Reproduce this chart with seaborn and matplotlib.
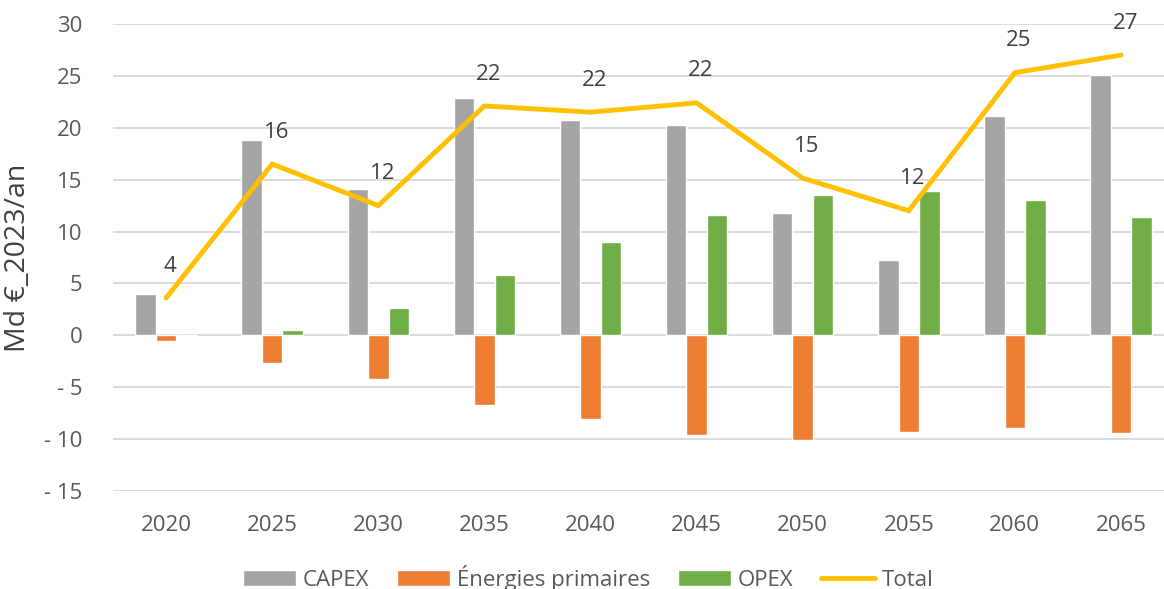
import numpy as np
import pandas as pd
import matplotlib
matplotlib.use("Agg")
import matplotlib.pyplot as plt
import seaborn as sns

# Données (Md €_2023/an)
annees = ["2020", "2025", "2030", "2035", "2040", "2045", "2050", "2055", "2060", "2065"]
capex = [4.0, 18.8, 14.1, 22.9, 20.7, 20.3, 11.8, 7.3, 21.1, 25.1]
energies_primaires = [-0.55, -2.7, -4.2, -6.7, -8.1, -9.65, -10.1, -9.3, -8.9, -9.4]
opex = [0.0, 0.5, 2.6, 5.8, 8.95, 11.6, 13.5, 13.95, 13.05, 11.4]
total = [3.6, 16.5, 12.5, 22.1, 21.5, 22.4, 15.15, 12.0, 25.3, 27.0]
etiquettes_total = ["4", "16", "12", "22", "22", "22", "15", "12", "25", "27"]

series = ["CAPEX", "Énergies primaires", "OPEX"]
couleurs = ["#A5A5A5", "#ED7D31", "#70AD47"]
couleur_total = "#FFC000"
texte = "#595959"

# Format long pour seaborn
df = pd.DataFrame({
    "annee": annees * 3,
    "serie": [s for s in series for _ in annees],
    "valeur": capex + energies_primaires + opex,
})

sns.set_style("white")
plt.rcParams["font.family"] = ["Open Sans", "DejaVu Sans"]

fig = plt.figure(figsize=(11.64, 5.89), dpi=100)
ax = fig.add_axes([0.0971, 0.1664, 0.9115, 0.7929])

sns.barplot(data=df, x="annee", y="valeur", hue="serie", hue_order=series,
            palette=couleurs, saturation=1, width=0.58, ax=ax)
sns.pointplot(x=annees, y=total, color=couleur_total, markers="", linewidth=3.5,
              errorbar=None, label="Total", ax=ax)
for l in ax.lines:
    l.set_solid_capstyle("round")
    l.set_solid_joinstyle("miter")

# Étiquettes du total
for i, (v, t) in enumerate(zip(total, etiquettes_total)):
    ax.annotate(t, (i, v), xytext=(3, 23), textcoords="offset points",
                ha="center", va="center", fontsize=16, color="#404040")

ax.set_ylim(-15, 30)
ax.set_xlim(-0.5, 9.5)
ticks = [30, 25, 20, 15, 10, 5, 0, -5, -10, -15]
ax.set_yticks(ticks)
ax.set_yticklabels([str(t) if t >= 0 else "- " + str(-t) for t in ticks])
ax.yaxis.grid(True, color="#D9D9D9", linewidth=1.3)
ax.set_axisbelow(True)
sns.despine(ax=ax, left=True, bottom=True, top=True, right=True)
ax.tick_params(axis="y", length=0, pad=22, labelsize=16, labelcolor=texte)
ax.tick_params(axis="x", length=0, pad=17, labelsize=16, labelcolor=texte)
ax.set_xlabel("")
ax.set_ylabel("Md €_2023/an", fontsize=20.5, color="#404040")
ax.yaxis.set_label_coords(-0.076, 0.5)

handles, labels = ax.get_legend_handles_labels()
ax.legend(handles, labels, loc="center", bbox_to_anchor=(0.505, 0.019),
          bbox_transform=fig.transFigure, ncol=4, frameon=False, fontsize=16,
          labelcolor=texte, handlelength=2.4, handletextpad=0.3,
          columnspacing=1.25)

fig.savefig("out.png", dpi=100)
